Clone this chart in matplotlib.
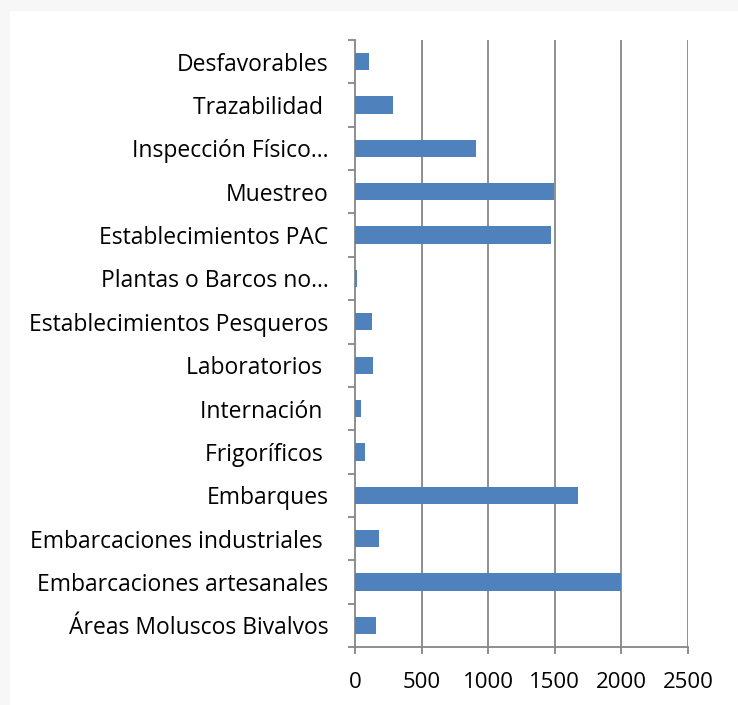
import matplotlib
matplotlib.use("Agg")
import matplotlib.pyplot as plt
from matplotlib.patches import Rectangle
from matplotlib.ticker import FixedLocator

# categories listed bottom to top, as drawn on the y axis
categories = [
    "Áreas Moluscos Bivalvos",
    "Embarcaciones artesanales",
    "Embarcaciones industriales ",
    "Embarques",
    "Frigoríficos ",
    "Internación ",
    "Laboratorios ",
    "Establecimientos Pesqueros",
    "Plantas o Barcos no…",
    "Establecimientos PAC",
    "Muestreo",
    "Inspección Físico…",
    "Trazabilidad ",
    "Desfavorables",
]
values = [155, 1995, 177, 1675, 77, 47, 137, 130, 12, 1468, 1495, 910, 283, 103]
x_ticks = [0, 500, 1000, 1500, 2000, 2500]

plt.rcParams["font.family"] = ["Open Sans", "DejaVu Sans"]

W, H, DPI = 738, 705, 100
fig = plt.figure(figsize=(W / DPI, H / DPI), dpi=DPI, facecolor="#f7f7f7")
# white chart panel inside the grey page border
fig.add_artist(Rectangle((10 / W, 0), 1, (H - 11) / H, transform=fig.transFigure,
                         facecolor="white", edgecolor="none", zorder=-5))

ax = fig.add_axes([355 / W, (H - 647) / H, (688 - 355) / W, (647 - 40) / H])
ax.set_zorder(2)
ax.set_facecolor("white")

grid_color = "#868686"
pos = list(range(len(categories)))
ax.barh(pos, values, height=0.4, color="#4f81bd", zorder=3)

ax.set_xlim(0, 2500)
ax.set_ylim(-0.5, len(categories) - 0.5)
ax.set_xticks(x_ticks)
ax.set_xticklabels([str(t) for t in x_ticks], fontsize=16)
for t in x_ticks[1:]:
    ax.axvline(t, color=grid_color, lw=1.3, zorder=1)

ax.set_yticks(pos)
ax.set_yticklabels(categories, fontsize=16.5)
ax.yaxis.set_minor_locator(FixedLocator([p - 0.5 for p in pos] + [len(pos) - 0.5]))
ax.tick_params(axis="y", which="major", length=0, pad=19)
ax.tick_params(axis="y", which="minor", length=5, width=1.3, color=grid_color)
ax.tick_params(axis="x", length=5, width=1.3, color=grid_color, pad=13)

for side in ("top", "right"):
    ax.spines[side].set_visible(False)
for side in ("left", "bottom"):
    ax.spines[side].set_color(grid_color)
    ax.spines[side].set_linewidth(1.3)

fig.savefig("out.png", dpi=DPI, facecolor=fig.get_facecolor())
